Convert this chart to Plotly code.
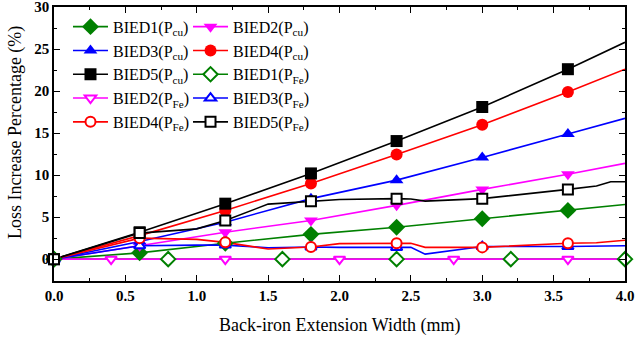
import plotly.graph_objects as go

# ---------------- data ----------------
x_cu = [0, 0.6, 1.2, 1.8, 2.4, 3.0, 3.6, 4.0]
bied1_cu = [0, 0.75, 1.9, 2.95, 3.8, 4.8, 5.8, 6.5]
bied2_cu = [0, 1.6, 3.2, 4.6, 6.4, 8.3, 10.1, 11.4]
bied3_cu = [0, 2.1, 4.4, 7.2, 9.4, 12.1, 14.9, 16.75]
bied4_cu = [0, 2.8, 5.8, 9.0, 12.45, 16.0, 19.9, 22.6]
bied5_cu = [0, 3.2, 6.6, 10.2, 14.05, 18.1, 22.6, 25.8]

x_fe1 = [0, 0.8, 1.6, 2.4, 3.2, 4.0]
bied1_fe = [0, 0, 0, 0, 0, 0]
x_fe2 = [0, 0.4, 1.2, 2.0, 2.8, 3.6, 4.0]
bied2_fe = [0, 0, 0, 0, 0, 0, 0]
x_fe3 = [0, 0.6, 1.0, 1.2, 1.5, 1.8, 2.0, 2.4, 2.5, 2.6, 3.0, 3.6, 4.0]
bied3_fe = [0, 1.6, 1.67, 1.67, 1.35, 1.45, 1.4, 1.4, 1.4, 0.6, 1.5, 1.5, 1.6]
x_fe4 = [0, 0.6, 1.0, 1.2, 1.5, 1.8, 2.0, 2.4, 2.5, 2.6, 3.0, 3.6, 3.8, 4.0]
bied4_fe = [0, 2.5, 2.35, 2.0, 1.2, 1.45, 1.85, 1.9, 1.9, 1.4, 1.4, 1.9, 1.95, 2.25]
x_fe5 = [0, 0.6, 1.0, 1.2, 1.5, 1.8, 2.0, 2.4, 2.5, 2.6, 3.0, 3.6, 3.8, 3.9, 4.0]
bied5_fe = [0, 3.1, 3.6, 4.6, 6.55, 6.9, 7.1, 7.2, 7.15, 6.9, 7.2, 8.3, 8.7, 9.2, 9.2]

# x positions that carry a symbol
mark_std = [0, 0.6, 1.2, 1.8, 2.4, 3.0, 3.6]
mark_fe1 = [0, 0.8, 1.6, 2.4, 3.2, 4.0]
mark_fe2 = [0.4, 1.2, 2.0, 2.8, 3.6]

x_ticks = [0, 0.5, 1.0, 1.5, 2.0, 2.5, 3.0, 3.5, 4.0]
y_ticks = [0, 5, 10, 15, 20, 25, 30]

x_title = "Back-iron Extension Width (mm)"
y_title = "Loss Increase Percentage (%)"

GREEN, MAG, BLUE, RED, BLACK = "#008000", "#FF00FF", "#0000FF", "#FF0000", "#000000"

series = [
    # name, x, y, marks, color, symbol, filled, legend
    ("BIED1(P<sub>cu</sub>)", x_cu, bied1_cu, mark_std, GREEN, "diamond", True, "legend"),
    ("BIED2(P<sub>cu</sub>)", x_cu, bied2_cu, mark_std, MAG, "triangle-down", True, "legend2"),
    ("BIED3(P<sub>cu</sub>)", x_cu, bied3_cu, mark_std, BLUE, "triangle-up", True, "legend"),
    ("BIED4(P<sub>cu</sub>)", x_cu, bied4_cu, mark_std, RED, "circle", True, "legend2"),
    ("BIED5(P<sub>cu</sub>)", x_cu, bied5_cu, mark_std, BLACK, "square", True, "legend"),
    ("BIED1(P<sub>Fe</sub>)", x_fe1, bied1_fe, mark_fe1, GREEN, "diamond", False, "legend2"),
    ("BIED2(P<sub>Fe</sub>)", x_fe2, bied2_fe, mark_fe2, MAG, "triangle-down", False, "legend"),
    ("BIED3(P<sub>Fe</sub>)", x_fe3, bied3_fe, mark_std, BLUE, "triangle-up", False, "legend2"),
    ("BIED4(P<sub>Fe</sub>)", x_fe4, bied4_fe, mark_std, RED, "circle", False, "legend"),
    ("BIED5(P<sub>Fe</sub>)", x_fe5, bied5_fe, mark_std, BLACK, "square", False, "legend2"),
]

FONT = "Liberation Serif, Times New Roman, serif"

fig = go.Figure()


def marker_style(color, symbol, filled):
    if filled:
        return dict(symbol=symbol, size=12 if symbol != "diamond" else 13, color=color,
                    line=dict(width=0))
    return dict(symbol=symbol, size=10 if symbol != "diamond" else 11, color="white",
                line=dict(width=2, color=color))


# lines first
for i, (name, xs, ys, marks, color, symbol, filled, leg) in enumerate(series):
    fig.add_trace(go.Scatter(x=xs, y=ys, mode="lines", line=dict(color=color, width=1.6),
                             showlegend=False, legendgroup=f"g{i}", hoverinfo="skip",
                             cliponaxis=False))

# markers
for i, (name, xs, ys, marks, color, symbol, filled, leg) in enumerate(series):
    lookup = dict(zip(xs, ys))
    mx = [m for m in marks if m in lookup]
    my = [lookup[m] for m in mx]
    fig.add_trace(go.Scatter(x=mx, y=my, mode="markers",
                             marker=marker_style(color, symbol, filled),
                             showlegend=False, legendgroup=f"g{i}", cliponaxis=False))

# legend entries
for i, (name, xs, ys, marks, color, symbol, filled, leg) in enumerate(series):
    fig.add_trace(go.Scatter(x=[None], y=[None], mode="lines+markers", name=name,
                             line=dict(color=color, width=1.6),
                             marker=marker_style(color, symbol, filled),
                             legendgroup=f"g{i}", legend=leg, showlegend=True))

axis_common = dict(
    showline=True, linecolor="black", linewidth=1.5, mirror="allticks",
    ticks="inside", ticklen=6, tickwidth=1.3, tickcolor="black",
    showgrid=False, zeroline=False, automargin=False, ticklabeloverflow="allow",
    tickfont=dict(family=FONT, size=15, color="black", weight="bold"),
)

fig.update_xaxes(range=[0, 4.0], tickvals=x_ticks, tickformat=".1f",
                 minor=dict(dtick=0.25, tick0=0, ticks="inside", ticklen=3, tickcolor="black", tickwidth=1),
                 **axis_common)
fig.update_yaxes(range=[-2.6, 30], tickvals=y_ticks,
                 minor=dict(dtick=2.5, tick0=0, ticks="inside", ticklen=3, tickcolor="black", tickwidth=1),
                 **axis_common)

fig.add_annotation(text=x_title, xref="paper", yref="paper", x=0.5, y=0, yshift=-44,
                   xanchor="center", yanchor="middle", showarrow=False,
                   font=dict(family=FONT, size=18, color="black"))
fig.add_annotation(text=y_title, xref="paper", yref="paper", x=0, y=0.54, xshift=-39,
                   xanchor="center", yanchor="middle", textangle=-90, showarrow=False,
                   font=dict(family=FONT, size=18, color="black"))

leg_common = dict(font=dict(family=FONT, size=16, color="black"), bgcolor="rgba(0,0,0,0)",
                  borderwidth=0, tracegroupgap=0, orientation="v", xanchor="left", yanchor="top",
                  itemwidth=35, itemclick=False, itemdoubleclick=False)

fig.update_layout(
    width=635, height=341,
    margin=dict(l=54, r=10, t=7, b=60, autoexpand=False),
    paper_bgcolor="white", plot_bgcolor="white",
    legend=dict(x=0.0245, y=0.99, **leg_common),
    legend2=dict(x=0.2347, y=0.99, **leg_common),
)

fig.write_html("out.html", config={"displayModeBar": False},
               post_script="document.body.style.margin='0px';")
